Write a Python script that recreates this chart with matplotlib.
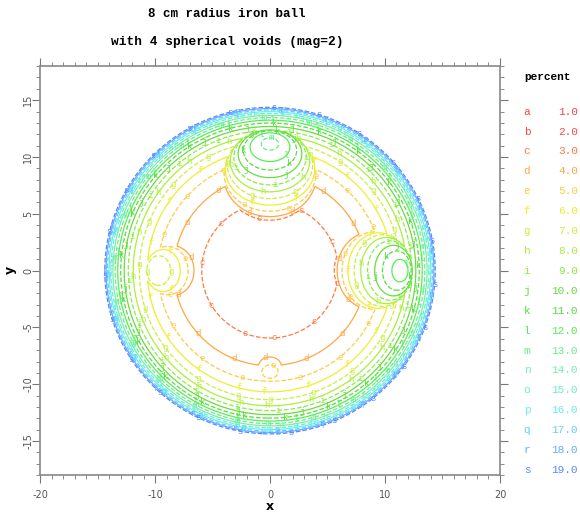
import numpy as np
import matplotlib
matplotlib.use("Agg")
import matplotlib.pyplot as plt
from matplotlib.ticker import MultipleLocator

plt.rcParams["axes.unicode_minus"] = False

# contour levels (percent) and their letters
levels = [1.0, 2.0, 3.0, 4.0, 5.0, 6.0, 7.0, 8.0, 9.0, 10.0,
          11.0, 12.0, 13.0, 14.0, 15.0, 16.0, 17.0, 18.0, 19.0]
letters = list("abcdefghijklmnopqrs")

# projected geometry (mag=2): ball radius and 4 spherical voids
ball_r = 16.0
void_x = [0.0, 9.0, -8.6, 0.0]
void_y = [8.4, 0.0, 0.0, -8.5]
void_r = [4.0, 3.4, 2.2, 1.0]
mu = 0.236  # attenuation per cm of iron

colors = ["#ff4040", "#ff4a40", "#ff7a40", "#ffa840", "#ffcc40", "#eeee30",
          "#ccee40", "#aaee40", "#88ee40", "#66dd40", "#55dd40", "#55ee55",
          "#66ee88", "#77eeaa", "#66eecc", "#66eeee", "#66ccff", "#66aaff",
          "#5588ff"]
styles = ["--" if i % 2 == 0 else "-" for i in range(len(levels))]

x = np.linspace(-16, 16, 700)
y = np.linspace(-16, 16, 700)
X, Y = np.meshgrid(x, y)
R2 = X**2 + Y**2
L = np.sqrt(np.clip(ball_r**2 - R2, 0, None))
for vx, vy, vr in zip(void_x, void_y, void_r):
    d2 = (X - vx)**2 + (Y - vy)**2
    L = L - np.sqrt(np.clip(vr**2 - d2, 0, None))
P = 100 * np.exp(-mu * L)
P = np.where(R2 < ball_r**2, P, np.nan)

fig = plt.figure(figsize=(5.8, 5.12), dpi=100)
ax = fig.add_axes([0.069, 0.072, 0.793, 0.799])

cs = ax.contour(X, Y, P, levels=levels, colors=colors, linewidths=0.9)
cs.set_linestyles(styles)

# letter labels along each contour
for i, segs in enumerate(cs.allsegs):
    for seg in segs:
        if len(seg) < 5:
            continue
        dl = np.hypot(np.diff(seg[:, 0]), np.diff(seg[:, 1]))
        s = np.concatenate([[0], np.cumsum(dl)])
        step = 3.9
        for m in np.arange(step * 0.5, s[-1], step):
            k = min(np.searchsorted(s, m), len(seg) - 1)
            ax.text(seg[k, 0], seg[k, 1], letters[i], color=colors[i],
                    fontsize=6.5, family="Liberation Mono",
                    ha="center", va="center")

ax.set_xlim(-20, 20)
ax.set_ylim(-18, 18)
ax.xaxis.set_major_locator(MultipleLocator(10))
ax.xaxis.set_minor_locator(MultipleLocator(1))
ax.yaxis.set_major_locator(MultipleLocator(5))
ax.yaxis.set_minor_locator(MultipleLocator(1))
ax.tick_params(which="both", top=True, right=True, direction="out",
               color="#777777", labelsize=7, labelcolor="#555555")
ax.tick_params(which="major", length=6)
ax.tick_params(which="minor", length=3)
ax.tick_params(axis="x", which="major", pad=5)
ax.tick_params(axis="y", which="major", pad=-1)
for lab in ax.get_yticklabels():
    lab.set_rotation(90)
    lab.set_va("center")
for sp in ax.spines.values():
    sp.set_color("#888888")
    sp.set_linewidth(1.2)

fig.text(270 / 580, 1 - 506 / 512, "x", ha="center", va="center",
         fontsize=9, fontweight="bold")
fig.text(10 / 580, 1 - 270 / 512, "y", ha="center", va="center",
         fontsize=9, fontweight="bold", rotation=90)

fig.text(227 / 580, 1 - 14 / 512, "8 cm radius iron ball", ha="center",
         va="center", family="Liberation Mono", fontweight="bold", fontsize=9)
fig.text(227 / 580, 1 - 42 / 512, "with 4 spherical voids (mag=2)",
         ha="center", va="center", family="Liberation Mono",
         fontweight="bold", fontsize=9.3)

# legend column
fig.text(547 / 580, 1 - 77 / 512, "percent", ha="center", va="center",
         family="Liberation Mono", fontsize=8, fontweight="bold")
for i in range(len(levels)):
    yy = 1 - (111.7 + i * 19.9) / 512
    fig.text(527 / 580, yy, letters[i], color=colors[i], ha="center",
             va="center", family="Liberation Mono", fontsize=8)
    fig.text(578 / 580, yy, f"{levels[i]:.1f}", color=colors[i], ha="right",
             va="center", family="Liberation Mono", fontsize=8)

fig.savefig("out.png", dpi=100)
